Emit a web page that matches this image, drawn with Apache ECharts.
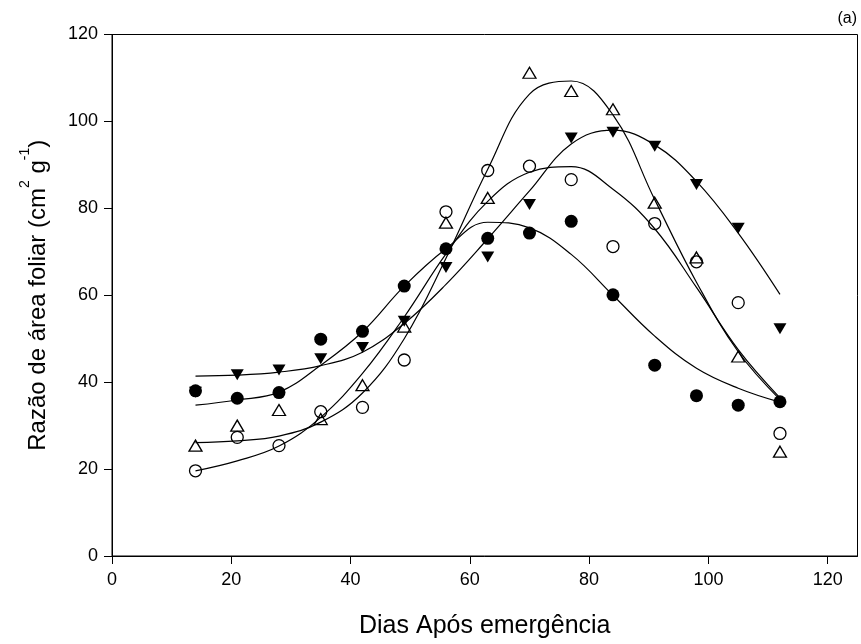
<!DOCTYPE html>
<html>
<head>
<meta charset="utf-8">
<script src="https://cdn.jsdelivr.net/npm/echarts@6/dist/echarts.min.js"></script>
<style>
  html, body { margin: 0; padding: 0; background: #fff; }
  #chart { width: 861px; height: 644px; }
</style>
</head>
<body>
<div id="chart"></div>
<script>
// dias apos emergencia (observacoes)
var days = [14, 21, 28, 35, 42, 49, 56, 63, 70, 77, 84, 91, 98, 105, 112];

// pontos observados
var fullCircle = [38.0, 36.3, 37.6, 49.9, 51.7, 62.1, 70.7, 73.1, 74.3, 77.0, 60.1, 43.9, 36.9, 34.7, 35.5];
var openCircle = [19.6, 27.3, 25.4, 33.2, 34.2, 45.1, 79.2, 88.7, 89.7, 86.6, 71.2, 76.5, 67.7, 58.3, 28.2];
var openTri = [25.4, 30.0, 33.6, 31.5, 39.3, 52.8, 76.7, 82.4, 111.2, 107.0, 102.8, 81.3, 68.7, 45.9, 24.0];
var fullTriDown = [37.7, 41.7, 42.8, 45.4, 48.0, 54.0, 66.4, 68.8, 80.9, 96.2, 97.5, 94.3, 85.5, 75.4, 52.3];

// curvas ajustadas
var fitX = [14, 21, 28, 35, 42, 49, 56, 63, 70, 77, 84, 91, 98, 105, 112];
var fitFullCircle = [34.7, 35.9, 37.7, 43.9, 51.6, 62.1, 70.7, 76.8, 75.5, 69.4, 60.0, 50.6, 43.2, 38.6, 35.4];
var fitOpenCircle = [19.6, 21.9, 25.3, 31.9, 42.0, 55.0, 69.5, 81.6, 88.3, 89.6, 84.4, 75.3, 61.8, 47.5, 36.4];
var fitOpenTri = [26.1, 26.5, 27.6, 30.8, 37.5, 50.0, 68.5, 89.0, 106.3, 109.3, 101.5, 82.0, 63.0, 47.0, 36.0];
var fitFullTriDown = [41.4, 41.6, 42.3, 43.8, 46.9, 53.5, 62.5, 73.0, 84.0, 94.8, 98.0, 94.6, 86.2, 74.3, 60.2];

var xTicks = [0, 20, 40, 60, 80, 100, 120];

var chart = echarts.init(document.getElementById('chart'));

function pairs(xs, ys) {
  return xs.map(function (x, i) { return [x, ys[i]]; });
}

function fitLine(ys) {
  return {
    type: 'line',
    data: pairs(fitX, ys),
    smooth: 0.4,
    symbol: 'none',
    lineStyle: { color: '#000', width: 1.2 },
    z: 2,
    silent: true
  };
}

function points(ys, symbol, size, filled, rotate) {
  return {
    type: 'scatter',
    data: pairs(days, ys),
    symbol: symbol,
    symbolSize: size,
    symbolRotate: rotate || 0,
    itemStyle: {
      color: filled ? '#000' : 'rgba(0,0,0,0)',
      borderColor: '#000',
      borderWidth: filled ? 0 : 1.3,
      opacity: 1
    },
    z: 3
  };
}

var font = 'Liberation Sans, Arial, sans-serif';

var option = {
  animation: false,
  backgroundColor: '#fff',
  grid: {
    left: 112, right: 3.5, top: 34.5, bottom: 87,
    show: true, borderColor: '#000', borderWidth: 1, backgroundColor: 'transparent'
  },
  xAxis: {
    type: 'value',
    min: 0, max: 125, interval: 20,
    name: 'Dias Após emergência',
    nameLocation: 'middle',
    nameGap: 58,
    nameTextStyle: { color: '#000', fontSize: 25, fontFamily: font },
    axisLine: { lineStyle: { color: '#000', width: 1 } },
    axisTick: { show: true, length: 8, lineStyle: { color: '#000' }, customValues: xTicks },
    axisLabel: { color: '#000', fontSize: 18, fontFamily: font, margin: 15, customValues: xTicks },
    splitLine: { show: false }
  },
  yAxis: {
    type: 'value',
    min: 0, max: 120, interval: 20,
    name: '{t|Razão de área foliar (cm}{s|2}{t| g}{s|-1}{t|)}',
    nameLocation: 'middle',
    nameRotate: 90,
    nameGap: 62,
    nameTextStyle: {
      color: '#000', fontFamily: font,
      rich: {
        t: { fontSize: 24, fontFamily: font, color: '#000', lineHeight: 32, verticalAlign: 'bottom' },
        s: { fontSize: 14, fontFamily: font, color: '#000', lineHeight: 32, verticalAlign: 'top' }
      }
    },
    axisLine: { lineStyle: { color: '#000', width: 1 } },
    axisTick: { show: true, length: 8, lineStyle: { color: '#000' } },
    axisLabel: { color: '#000', fontSize: 18, fontFamily: font, margin: 14 },
    splitLine: { show: false }
  },
  graphic: [{
    type: 'text',
    right: 4,
    top: 11,
    style: { text: '(a)', fill: '#000', font: '16px Liberation Sans, Arial, sans-serif' }
  }],
  series: [
    fitLine(fitFullCircle),
    fitLine(fitOpenCircle),
    fitLine(fitOpenTri),
    fitLine(fitFullTriDown),
    points(openCircle, 'circle', 12, false),
    points(openTri, 'triangle', [13, 11], false),
    points(fullTriDown, 'triangle', [13, 11], true, 180),
    points(fullCircle, 'circle', 13, true)
  ]
};

chart.setOption(option);
</script>
</body>
</html>
